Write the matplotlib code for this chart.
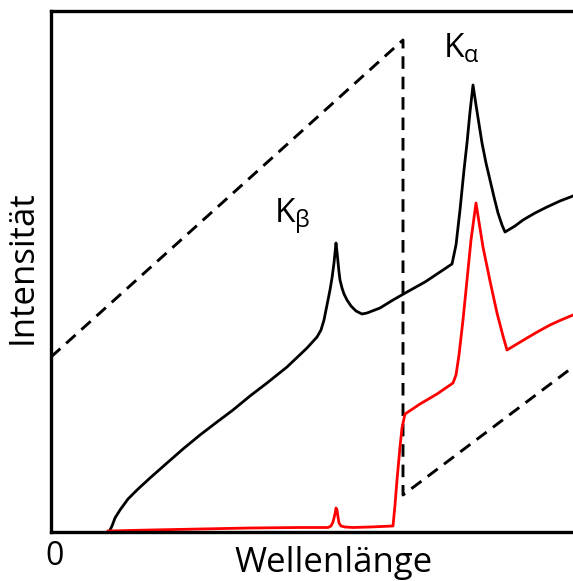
import matplotlib
matplotlib.use("Agg")
import matplotlib.pyplot as plt

plt.rcParams['font.family'] = ['Open Sans', 'DejaVu Sans']

# spectrum of the tube (black): wavelength, intensity (arbitrary units)
tube_x = [58, 61, 64, 69, 77, 86, 99, 116, 132, 149, 166, 182, 199, 216, 236,
          256, 266, 270, 273, 276, 279, 281, 283, 284, 285, 286, 287, 288, 289,
          291, 293, 296, 300, 305, 311, 316, 329, 342, 356, 374, 389, 401, 405,
          409, 413, 416, 419, 422, 425, 428, 431, 435, 439, 443, 447, 451, 454,
          464, 472, 484, 496, 509, 522]
tube_y = [0, 6, 14, 22, 33, 42, 54, 69, 83, 97, 110, 122, 136, 149, 165,
          184, 195, 202, 212, 227, 242, 254, 269, 279, 289, 280, 270, 260, 252,
          244, 238, 232, 226, 221, 218, 219, 224, 232, 240, 250, 260, 268, 287,
          322, 362, 389, 420, 447, 427, 408, 389, 369, 352, 335, 319, 307, 300,
          306, 312, 319, 325, 331, 336]

# filtered spectrum (red)
filt_x = [57, 99, 149, 199, 249, 277, 280, 282, 284, 285, 286, 287, 288, 290,
          294, 302, 319, 342, 344, 346, 349, 351, 354, 369, 386, 402, 405, 408,
          412, 416, 420, 425, 428, 432, 439, 446, 452, 456, 466, 476, 488, 499,
          510, 522]
filt_y = [1, 2, 3, 4, 4.5, 4.5, 6, 10, 18, 24, 22, 15, 9, 6,
          5, 4.5, 5, 6, 27, 52, 85, 104, 118, 128, 138, 149, 157, 177,
          212, 252, 292, 329, 310, 285, 251, 219, 196, 182, 188, 194, 201, 207,
          212, 217]

# absorption of the filter (dashed)
absorb_x = [0, 352, 352, 522]
absorb_y = [175, 492, 37, 165]

fig = plt.figure(figsize=(5.73, 5.81), dpi=100)
ax = fig.add_axes([51/573, 49/581, 566/573, 521.5/581])

ax.plot(absorb_x, absorb_y, color='black', lw=2.1, dashes=(4.3, 2.7),
        dash_capstyle='butt', solid_joinstyle='miter')
ax.plot(tube_x, tube_y, color='black', lw=2.0, solid_joinstyle='round')
ax.plot(filt_x, filt_y, color='#ff0000', lw=2.0, solid_joinstyle='round')

ax.set_xlim(0, 566)
ax.set_ylim(0, 521.5)
ax.set_xticks([])
ax.set_yticks([])
for s in ax.spines.values():
    s.set_linewidth(2.4)

ax.text(223, 309, r'K$_{\mathregular{β}}$', fontsize=24, va='baseline', ha='left')
ax.text(392, 475, r'K$_{\mathregular{α}}$', fontsize=24, va='baseline', ha='left')

fig.text(334/573, 1 - 572/581, 'Wellenlänge', fontsize=25, ha='center', va='baseline')
fig.text(55/573, 1 - 565/581, '0', fontsize=23, ha='center', va='baseline')
fig.text(32/573, 1 - 267/581, 'Intensität', fontsize=25, rotation=90,
         rotation_mode='anchor', ha='center', va='baseline')

fig.savefig('out.png', dpi=100)
